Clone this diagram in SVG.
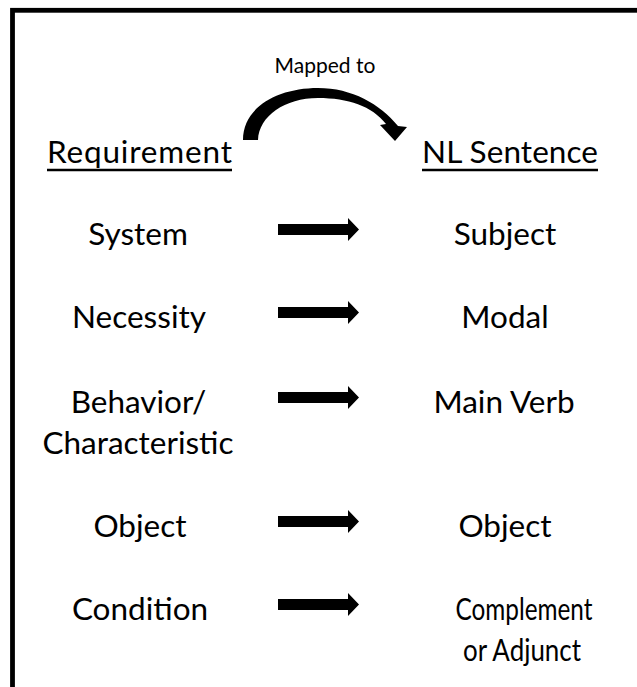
<svg xmlns="http://www.w3.org/2000/svg" width="637" height="687" viewBox="0 0 637 687">
<style>
text{font-family:Lato,"Liberation Sans",sans-serif;fill:#000}
.t{font-size:31.5px;text-anchor:middle}
.s{font-size:21px;text-anchor:middle}
.u{stroke:#000;stroke-width:2.5}
.ar{fill:#000}
</style>
<defs>
<path id="arr" d="M0,-5.5 H70 V-11.5 L81,0 L70,11.5 V5.5 H0 Z"/>
</defs>
<rect x="0" y="0" width="637" height="687" fill="#fff"/>
<rect x="12.5" y="10.3" width="700" height="700" fill="none" stroke="#000" stroke-width="4.8"/>
<g id="mapped">
<text class="s" x="325" y="73">Mapped to</text>
</g>
<g id="hdr-left">
<text class="t" x="139.5" y="163" textLength="185" lengthAdjust="spacing">Requirement</text>
<line class="u" x1="47" y1="170" x2="232" y2="170"/>
</g>
<g id="hdr-right">
<text class="t" x="510" y="163" textLength="176" lengthAdjust="spacing">NL Sentence</text>
<line class="u" x1="422" y1="170" x2="598" y2="170"/>
</g>
<g id="system"><text class="t" x="138" y="245">System</text></g>
<g id="necessity"><text class="t" x="139" y="328">Necessity</text></g>
<g id="behavior"><text class="t" x="138.5" y="413">Behavior/</text><text class="t" x="138" y="454">Characteristic</text></g>
<g id="object-l"><text class="t" x="140" y="537">Object</text></g>
<g id="condition"><text class="t" x="140" y="620">Condition</text></g>
<g id="subject"><text class="t" x="505" y="245">Subject</text></g>
<g id="modal"><text class="t" x="505" y="328">Modal</text></g>
<g id="mainverb"><text class="t" x="504" y="413">Main Verb</text></g>
<g id="object-r"><text class="t" x="505" y="537">Object</text></g>
<g id="complement"><text class="t" x="524" y="620" textLength="137" lengthAdjust="spacingAndGlyphs">Complement</text><text class="t" x="522" y="661" textLength="118" lengthAdjust="spacingAndGlyphs">or Adjunct</text></g>
<g id="connectors">
<path class="ar" d="M243,140 C243,107 278,88 318,88 C352,88 380,104 398,126 L407,127 L395,141 L380,125 L386,124 C372,106 348,98 318,98 C285,98 259,116 258,140 Z"/>
<use href="#arr" class="ar" x="278" y="229.5"/>
<use href="#arr" class="ar" x="278" y="312.5"/>
<use href="#arr" class="ar" x="278" y="397.5"/>
<use href="#arr" class="ar" x="278" y="521.5"/>
<use href="#arr" class="ar" x="278" y="604.5"/>
</g>
</svg>
